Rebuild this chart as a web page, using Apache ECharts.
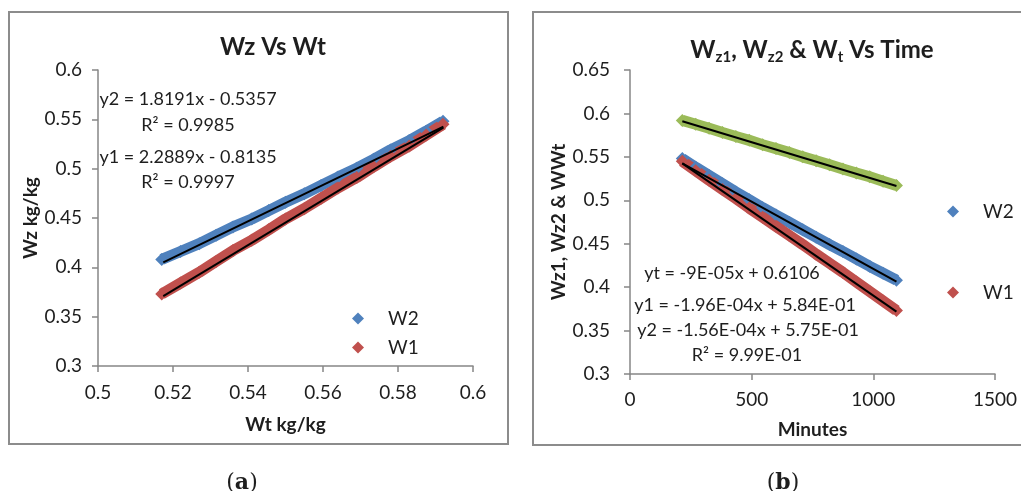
<!DOCTYPE html>
<html>
<head>
<meta charset="utf-8">
<script src="https://cdn.jsdelivr.net/npm/echarts@6/dist/echarts.min.js"></script>
<style>
html,body{margin:0;padding:0;background:#fff;}
#c{width:1021px;height:491px;}
</style>
</head>
<body>
<div id="c"></div>
<script>
// ---- data ----
var minutes = [215, 270, 325, 380, 435, 490, 545, 600, 655, 710, 765, 820, 875, 930, 985, 1040, 1095];
var wt = [0.592, 0.5875, 0.583, 0.578, 0.5735, 0.569, 0.564, 0.5595, 0.555, 0.550, 0.5455, 0.541, 0.536, 0.5315, 0.527, 0.522, 0.517];
var w2 = [0.548, 0.538, 0.5285, 0.519, 0.5095, 0.5005, 0.4915, 0.483, 0.4745, 0.466, 0.4575, 0.449, 0.441, 0.4325, 0.424, 0.416, 0.408];
var w1 = [0.545, 0.534, 0.523, 0.5125, 0.502, 0.491, 0.4805, 0.470, 0.4595, 0.449, 0.438, 0.4275, 0.417, 0.406, 0.395, 0.384, 0.373];

// trend-line end points (as drawn)
var fitLeftW2 = [[0.5174, 0.4051], [0.5921, 0.5426]];
var fitLeftW1 = [[0.5174, 0.3709], [0.5921, 0.5415]];
var fitRightWt = [[215, 0.591], [1095, 0.5165]];
var fitRightW2 = [[215, 0.5425], [1095, 0.4063]];
var fitRightW1 = [[215, 0.5425], [1095, 0.3718]];

var leftXTicks = {min: 0.5, max: 0.6, interval: 0.02};
var leftYTicks = {min: 0.3, max: 0.6, interval: 0.05};
var rightXTicks = {min: 0, max: 1500, interval: 500};
var rightYTicks = {min: 0.3, max: 0.65, interval: 0.05};

var eqLeft = ['y2 = 1.8191x - 0.5357', 'R\u00b2 = 0.9985', 'y1 = 2.2889x - 0.8135', 'R\u00b2 = 0.9997'];
var eqRight = ['yt = -9E-05x + 0.6106', 'y1 = -1.96E-04x + 5.84E-01', 'y2 = -1.56E-04x + 5.75E-01', 'R\u00b2 = 9.99E-01'];

// ---- styling ----
var FONT = 'Lato';
var TXT = '#1e1e1e';
var BLUE = '#4F81BD', RED = '#C0504D', GREEN = '#9BBB59';
var AXC = '#868686';

function pairs(xs, ys) { return xs.map(function (x, i) { return [x, ys[i]]; }); }

function axisBase(t, nameGap, name, rot, margin) {
  return {
    type: 'value', min: t.min, max: t.max, interval: t.interval,
    name: name, nameLocation: 'middle', nameGap: nameGap, nameRotate: rot,
    nameTextStyle: {fontFamily: FONT, fontWeight: 'bold', fontSize: 19, color: TXT},
    axisLine: {show: true, onZero: false, lineStyle: {color: AXC, width: 1.5}},
    axisTick: {show: true, inside: false, length: 6, lineStyle: {color: AXC, width: 1.5}},
    axisLabel: {fontFamily: FONT, fontSize: 19, color: TXT, margin: margin,
      formatter: function (v) { return String(+v.toFixed(4)); }},
    splitLine: {show: false}
  };
}

function band(name, color, xi, yi, data) {
  return {
    name: name, type: 'line', xAxisIndex: xi, yAxisIndex: yi, data: data,
    symbol: 'diamond', symbolSize: 13, showSymbol: true,
    itemStyle: {color: color}, lineStyle: {color: color, width: 11},
    z: 2, silent: true, animation: false
  };
}
function fit(name, xi, yi, data) {
  return {
    name: name, type: 'line', xAxisIndex: xi, yAxisIndex: yi, data: data,
    symbol: 'none', lineStyle: {color: '#000', width: 2}, z: 5, silent: true, animation: false
  };
}

var xa0 = axisBase(leftXTicks, 49, 'Wt kg/kg', 0, 17); xa0.gridIndex = 0;
var ya0 = axisBase(leftYTicks, 48, 'Wz kg/kg', 90, 16); ya0.gridIndex = 0;
var xa1 = axisBase(rightXTicks, 46, 'Minutes', 0, 16); xa1.gridIndex = 1;
var ya1 = axisBase(rightYTicks, 62, 'Wz1, Wz2 & WWt', 90, 20); ya1.gridIndex = 1;

function txt(str, x, y, extra) {
  var s = {text: str, x: x, y: y, align: 'center', verticalAlign: 'middle', font: '18px ' + FONT, fill: TXT};
  for (var k in extra) s[k] = extra[k];
  return {type: 'text', silent: true, style: s, z: 10};
}

var graphics = [
  {type: 'rect', shape: {x: 9, y: 12, width: 499, height: 432}, style: {fill: 'none', stroke: '#8c8c8c', lineWidth: 2}, silent: true, z: 0},
  {type: 'rect', shape: {x: 533, y: 12, width: 520, height: 433}, style: {fill: 'none', stroke: '#8c8c8c', lineWidth: 2}, silent: true, z: 0},
  txt('Wz Vs Wt', 273, 47, {font: 'bold 24px ' + FONT}),
  txt('W{s|z1}, W{s|z2} & W{s|t} Vs Time', 812, 50, {
    font: 'bold 24px ' + FONT,
    rich: {s: {fontFamily: FONT, fontWeight: 'bold', fontSize: 15, padding: [15, 0, 0, 0], fill: TXT}}
  }),
  txt(eqLeft[0], 188, 99), txt(eqLeft[1], 188, 125), txt(eqLeft[2], 188, 157), txt(eqLeft[3], 188, 182),
  txt(eqRight[0], 732, 273), txt(eqRight[1], 745, 305), txt(eqRight[2], 748, 330), txt(eqRight[3], 747, 355),
  txt('({b|a})', 242, 483, {font: '22px "DejaVu Serif"', rich: {b: {fontFamily: 'DejaVu Serif', fontWeight: 'bold', fontSize: 22, fill: TXT}}}),
  txt('({b|b})', 783, 483, {font: '22px "DejaVu Serif"', rich: {b: {fontFamily: 'DejaVu Serif', fontWeight: 'bold', fontSize: 22, fill: TXT}}})
];

var legendBase = {
  orient: 'vertical', icon: 'diamond', itemWidth: 12, itemHeight: 12,
  textStyle: {fontFamily: FONT, fontSize: 19, color: TXT, lineHeight: 16, padding: [0, 0, 0, 19]},
  selectedMode: false, data: ['W2', 'W1']
};
var lg0 = Object.assign({}, legendBase, {left: 347, top: 304, itemGap: 10});
var lg1 = Object.assign({}, legendBase, {left: 942, top: 197, itemGap: 62});

var chart = echarts.init(document.getElementById('c'), null, {renderer: 'canvas'});
chart.setOption({
  backgroundColor: '#fff',
  animation: false,
  grid: [
    {left: 98, top: 70, width: 375, height: 296},
    {left: 630, top: 70, width: 365, height: 304}
  ],
  xAxis: [xa0, xa1],
  yAxis: [ya0, ya1],
  legend: [lg0, lg1],
  graphic: graphics,
  series: [
    band('W2', BLUE, 0, 0, pairs(wt, w2)),
    band('W1', RED, 0, 0, pairs(wt, w1)),
    fit('fitL2', 0, 0, fitLeftW2),
    fit('fitL1', 0, 0, fitLeftW1),
    band('Wt', GREEN, 1, 1, pairs(minutes, wt)),
    band('W2', BLUE, 1, 1, pairs(minutes, w2)),
    band('W1', RED, 1, 1, pairs(minutes, w1)),
    fit('fitRt', 1, 1, fitRightWt),
    fit('fitR2', 1, 1, fitRightW2),
    fit('fitR1', 1, 1, fitRightW1)
  ]
});
</script>
</body>
</html>
